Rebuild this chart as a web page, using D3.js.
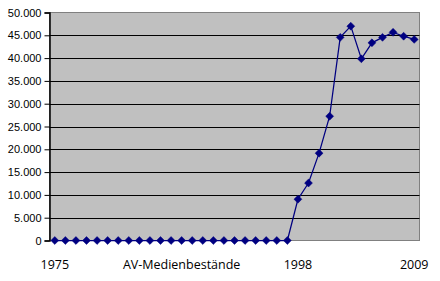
<!DOCTYPE html>
<html>
<head>
<meta charset="utf-8">
<script src="https://cdn.jsdelivr.net/npm/d3@7.9.0/dist/d3.min.js"></script>
<style>
  body { margin: 0; background: #fff; }
  svg { display: block; }
</style>
</head>
<body>
<div id="chart"></div>
<script>
// --- data ---
const years = d3.range(1975, 2010);
const stock = [
  0, 0, 0, 0, 0, 0, 0, 0, 0, 0, 0, 0, 0, 0, 0, 0, 0, 0, 0, 0, 0, 0, 0,
  9050, 12600, 19150, 27250, 44550, 47000, 39850, 43350, 44550, 45650, 44800, 44100
];
const yTicks = d3.range(0, 50001, 5000);
const catLabels = [
  { year: 1975, text: '1975' },
  { year: 1987, text: 'AV-Medienbestände' },
  { year: 1998, text: '1998' },
  { year: 2009, text: '2009' }
];

const width = 440;
const height = 281;
const margin = { top: 12.5, right: 20.5, bottom: 40.5, left: 49.5 };

const svg = d3.select('#chart')
  .append('svg')
  .attr('width', width)
  .attr('height', height);

const x = d3.scaleBand()
  .domain(years)
  .range([margin.left, width - margin.right]);

const y = d3.scaleLinear()
  .domain([0, 50000])
  .range([height - margin.bottom, margin.top]);

const de = d3.formatLocale({ decimal: ',', thousands: '.', grouping: [3], currency: ['', ' €'] });
const fmt = de.format(',d');

// plot area background
svg.append('rect')
  .attr('x', margin.left)
  .attr('y', margin.top)
  .attr('width', width - margin.left - margin.right)
  .attr('height', height - margin.top - margin.bottom)
  .attr('fill', '#c0c0c0')
  .attr('stroke', '#808080')
  .attr('stroke-width', 1);

// gridlines
svg.append('g')
  .selectAll('line')
  .data(yTicks.filter(d => d > 0 && d < 50000))
  .join('line')
  .attr('x1', margin.left)
  .attr('x2', width - margin.right)
  .attr('y1', d => Math.round(y(d)) + 0.5)
  .attr('y2', d => Math.round(y(d)) + 0.5)
  .attr('stroke', '#000')
  .attr('stroke-width', 1);

// y axis
const yAxis = d3.axisLeft(y)
  .tickValues(yTicks)
  .tickFormat(fmt)
  .tickSize(5)
  .tickPadding(3);

const ga = svg.append('g')
  .attr('transform', `translate(${margin.left},0)`)
  .call(yAxis);
ga.select('.domain').attr('stroke', '#000').attr('stroke-width', 1.5);
ga.selectAll('.tick line').attr('stroke', '#000');
ga.selectAll('.tick text')
  .attr('font-family', '"Liberation Sans", Arial, sans-serif')
  .attr('font-size', 11)
  .attr('fill', '#000');

// category labels
svg.append('g')
  .selectAll('text')
  .data(catLabels)
  .join('text')
  .attr('x', d => x(d.year) + x.bandwidth() / 2)
  .attr('y', height - 12)
  .attr('text-anchor', 'middle')
  .attr('font-family', '"Open Sans", sans-serif')
  .attr('font-size', 12.5)
  .attr('fill', '#000')
  .text(d => d.text);

// series
const pts = years.map((yr, i) => ({ year: yr, value: stock[i] }));

svg.append('path')
  .datum(pts)
  .attr('fill', 'none')
  .attr('stroke', '#000080')
  .attr('stroke-width', 1.25)
  .attr('d', d3.line()
    .x(d => x(d.year) + x.bandwidth() / 2)
    .y(d => y(d.value)));

svg.append('g')
  .selectAll('path')
  .data(pts)
  .join('path')
  .attr('transform', d => `translate(${x(d.year) + x.bandwidth() / 2},${y(d.value)})`)
  .attr('d', d3.symbol(d3.symbolDiamond2, 40))
  .attr('fill', '#000080')
  .attr('stroke', '#000080')
  .attr('stroke-width', 0.5);
</script>
</body>
</html>
